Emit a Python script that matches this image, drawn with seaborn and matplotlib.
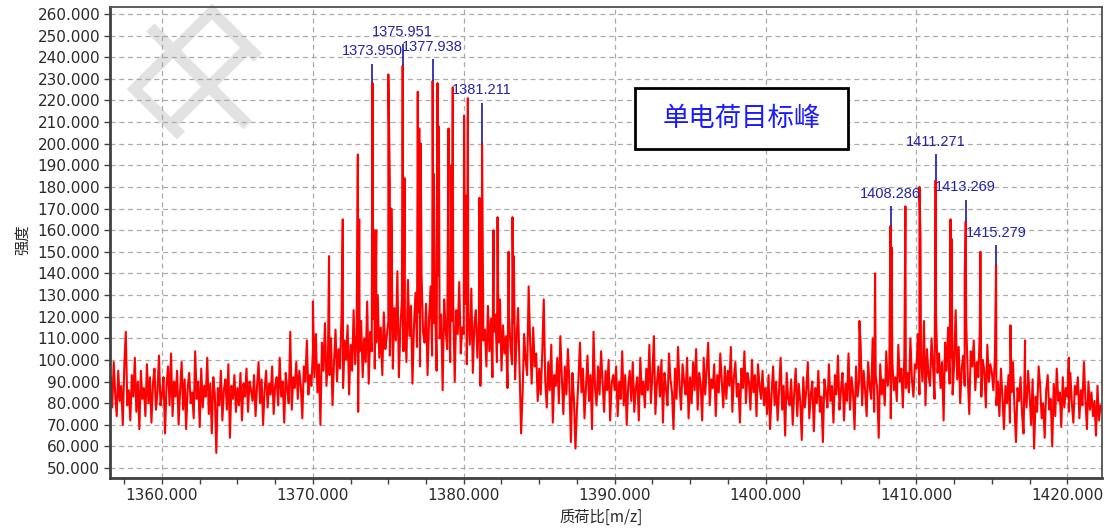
import numpy as np
import pandas as pd
import matplotlib
matplotlib.use("Agg")
import matplotlib.pyplot as plt
import seaborn as sns
from matplotlib.patches import Rectangle

# ---------------- data ----------------
mz_step = 0.1

# background spectrum, sampled every 0.1 m/z, one list per 5 m/z segment
seg_starts = [1356.6, 1360.0, 1365.0, 1370.0, 1375.0, 1380.0, 1385.0,
              1390.0, 1395.0, 1400.0, 1405.0, 1410.0, 1415.0, 1420.0]
int_1356 = [92, 78, 99, 84, 74, 95, 81, 88, 70, 97, 113, 79, 86, 72, 93, 83, 101,
            76, 90, 68, 95, 82, 87, 74, 98, 80, 92, 71, 89, 96, 77, 85, 102, 79]
int_1360 = [84, 92, 66, 88, 97, 79, 103, 74, 90, 83, 95, 70, 86, 99, 77, 91, 68, 87,
            94, 80, 85, 73, 104, 82, 90, 69, 96, 78, 88, 83, 101, 75, 89, 66, 92, 84,
            57, 87, 79, 95, 72, 86, 91, 77, 98, 64, 88, 82, 93, 76]
int_1365 = [87, 79, 94, 72, 89, 83, 96, 76, 90, 86, 81, 93, 74, 88, 99, 80, 91, 70,
            86, 95, 78, 89, 84, 97, 75, 88, 92, 79, 101, 83, 90, 71, 94, 86, 80, 113,
            77, 92, 87, 99, 82, 95, 88, 73, 97, 90, 109, 84, 93, 88]
int_1370 = [104, 92, 112, 85, 98, 70, 108, 95, 117, 88, 102, 93, 110, 79, 99, 114,
            90, 105, 96, 121, 87, 109, 100, 116, 84, 107, 95, 123, 98, 112, 76, 104,
            118, 92, 110, 99, 127, 89, 113, 104, 119, 96, 108, 130, 101, 115, 93, 122,
            105, 111]
int_1375 = [118, 102, 135, 96, 124, 109, 141, 92, 115, 128, 104, 119, 99, 137, 111,
            125, 89, 116, 131, 106, 122, 97, 140, 113, 108, 126, 93, 119, 134, 102,
            117, 124, 95, 139, 110, 121, 86, 128, 114, 105, 132, 99, 118, 127, 90, 123,
            112, 136, 103, 115]
int_1380 = [112, 126, 98, 120, 107, 133, 94, 116, 123, 101, 118, 88, 129, 109, 114,
            97, 125, 104, 119, 92, 113, 121, 99, 108, 128, 95, 116, 103, 111, 87, 120,
            106, 98, 117, 91, 110, 124, 96, 66, 85, 112, 100, 93, 134, 108, 89, 115,
            97, 103, 81]
int_1385 = [96, 84, 103, 128, 90, 78, 99, 86, 107, 71, 93, 88, 101, 80, 111, 92, 75,
            97, 84, 105, 89, 62, 94, 82, 59, 77, 91, 108, 85, 96, 73, 88, 102, 81, 93,
            68, 113, 87, 79, 97, 84, 104, 90, 76, 95, 86, 100, 72, 89, 93]
int_1390 = [86, 97, 74, 90, 82, 104, 79, 93, 70, 88, 95, 81, 99, 76, 87, 92, 72, 101,
            84, 90, 78, 96, 86, 107, 80, 93, 111, 75, 89, 97, 83, 100, 71, 94, 87, 79,
            103, 91, 85, 68, 96, 82, 106, 88, 77, 98, 90, 84, 101, 73]
int_1395 = [92, 80, 99, 86, 105, 77, 94, 89, 72, 101, 84, 96, 108, 79, 91, 87, 98, 74,
            93, 85, 103, 90, 78, 97, 82, 95, 88, 106, 76, 92, 99, 83, 89, 71, 96, 87,
            104, 80, 94, 90, 77, 100, 85, 93, 74, 98, 88, 82, 95, 79]
int_1400 = [87, 75, 93, 68, 84, 97, 79, 90, 72, 86, 101, 77, 88, 65, 94, 82, 79, 91,
            70, 85, 96, 74, 89, 81, 63, 92, 78, 86, 99, 73, 84, 90, 67, 87, 80, 95, 76,
            83, 62, 91, 85, 78, 98, 81, 88, 71, 93, 84, 102, 77]
int_1405 = [86, 94, 72, 89, 81, 103, 77, 92, 85, 68, 97, 83, 90, 108, 79, 95, 86, 74,
            99, 88, 82, 110, 76, 93, 87, 64, 98, 84, 91, 79, 104, 88, 95, 73, 100, 86,
            92, 81, 107, 90, 96, 78, 102, 87, 94, 85, 110, 91, 83, 98]
int_1410 = [96, 112, 84, 101, 90, 118, 79, 105, 93, 88, 110, 97, 82, 120, 94, 103, 87,
            99, 72, 108, 95, 115, 89, 101, 84, 98, 123, 91, 106, 80, 96, 102, 88, 117,
            93, 75, 104, 97, 109, 86, 99, 92, 113, 83, 100, 95, 78, 107, 90, 98]
int_1415 = [94, 86, 101, 79, 90, 74, 96, 83, 68, 88, 80, 93, 71, 85, 99, 77, 62, 87,
            81, 92, 75, 66, 89, 78, 95, 84, 70, 91, 59, 83, 76, 97, 88, 73, 80, 64, 86,
            93, 77, 82, 60, 89, 74, 96, 81, 85, 69, 92, 78, 87]
int_1420 = [83, 76, 94, 80, 71, 88, 84, 92, 73, 86, 79, 99, 82, 68, 90, 77, 85, 74,
            81, 65, 88, 72, 79, 76]
segments = [int_1356, int_1360, int_1365, int_1370, int_1375, int_1380, int_1385,
            int_1390, int_1395, int_1400, int_1405, int_1410, int_1415, int_1420]

# isotope peaks (apex m/z, apex intensity)
peak_mz = [1370.00, 1371.07, 1371.98, 1372.98, 1373.07, 1373.95, 1374.07, 1374.20,
           1375.00, 1375.10, 1375.20, 1375.951, 1376.08, 1376.95, 1377.05, 1377.15,
           1377.938, 1378.02, 1378.26, 1378.35, 1378.99, 1379.18, 1379.27, 1380.02,
           1380.18, 1380.27, 1381.04, 1381.211, 1381.97, 1382.24, 1382.97, 1383.23,
           1383.32, 1384.30,
           1406.22, 1407.26, 1408.286, 1408.36, 1409.27, 1410.20, 1410.27, 1411.271,
           1412.26, 1412.33, 1413.20, 1413.269, 1414.24, 1415.279, 1416.23, 1417.20,
           1420.10]
peak_int = [127, 148, 165, 195, 165, 228, 160, 160,
            232, 182, 170, 236, 184, 224, 207, 200,
            229, 186, 228, 208, 207, 190, 226, 213,
            176, 221, 175, 200, 160, 166, 150, 166,
            148, 134,
            118, 140, 162, 152, 171, 180, 157, 183,
            165, 156, 139, 164, 150, 144, 116, 109,
            101]

# annotated peaks: label, red apex, top of blue marker
label_mz = [1373.950, 1375.951, 1377.938, 1381.211, 1408.286, 1411.271, 1413.269, 1415.279]
label_text = ["1373.950", "1375.951", "1377.938", "1381.211",
              "1408.286", "1411.271", "1413.269", "1415.279"]
label_base = [228, 236, 229, 200, 162, 183, 164, 144]
label_top = [237, 246, 239, 219, 171, 195, 174, 153]

x_ticks = [1360, 1370, 1380, 1390, 1400, 1410, 1420]
y_ticks = list(range(50, 261, 10))
x_label = "质荷比[m/z]"
y_label = "强度"
box_text = "单电荷目标峰"
watermark = "中"

# ---------------- build table ----------------
frames = []
for s, vals in zip(seg_starts, segments):
    frames.append(pd.DataFrame({"mz": s + mz_step * np.arange(len(vals)), "inten": vals}))
frames.append(pd.DataFrame({"mz": peak_mz, "inten": peak_int}))
df = pd.concat(frames).sort_values("mz").reset_index(drop=True)

# ---------------- plot ----------------
sns.set_theme(style="white")
plt.rcParams["font.family"] = ["DejaVu Sans", "Noto Sans CJK SC"]
cjk = ["Noto Sans CJK SC", "DejaVu Sans"]

fig = plt.figure(figsize=(11.05, 5.29), dpi=100)
ax = fig.add_axes([0.0995, 0.0964, 0.8978, 0.8904])
ax.set_axisbelow(True)

# watermark
ax.text(0.1855, 0.858, watermark, transform=fig.transFigure, rotation=45,
        rotation_mode="anchor", ha="center", va="center", fontsize=108,
        family=cjk, fontweight="normal", color="#e2e2e2", zorder=0.2)

sns.lineplot(data=df, x="mz", y="inten", ax=ax, color="#ff0000", linewidth=1.5,
             estimator=None, sort=False, zorder=2)

# blue markers + labels
ax.vlines(label_mz, label_base, label_top, color="#2b2bb0", linewidth=1.3, zorder=3)
for mz, top, txt in zip(label_mz, label_top, label_text):
    ax.annotate(txt, (mz, top), xytext=(0, 4), textcoords="offset points",
                ha="center", va="bottom", fontsize=10.5, family="Liberation Sans",
                color="#2424a8", zorder=4)

ax.set_xlim(1356.55, 1422.3)
ax.set_ylim(45.4, 263.2)
ax.set_xticks(x_ticks)
ax.set_xticks(np.arange(1357.5, 1422.3, 2.5), minor=True)
ax.set_xticklabels([f"{v:.3f}" for v in x_ticks])
ax.set_yticks(y_ticks)
ax.set_yticklabels([f"{v:.3f}" for v in y_ticks])
ax.tick_params(axis="both", which="both", direction="out", length=4, width=1,
               color="#404040", labelsize=11, labelcolor="#2a2a2a", pad=3)
ax.tick_params(axis="x", which="both", bottom=True)
ax.tick_params(axis="y", which="both", left=True)

ax.grid(True, which="major", linestyle=(0, (4, 3)), color="#ababab", linewidth=0.9)

for side in ["left", "bottom"]:
    ax.spines[side].set_color("#404040")
    ax.spines[side].set_linewidth(2.0)
for side in ["top", "right"]:
    ax.spines[side].set_color("#505050")
    ax.spines[side].set_linewidth(1.3)
    ax.spines[side].set_visible(True)

ax.set_xlabel(x_label, family=cjk, fontsize=11, color="#2a2a2a")
ax.set_ylabel(y_label, family=cjk, fontsize=11, color="#2a2a2a")
ax.xaxis.set_label_coords(0.495, -0.066)
ax.yaxis.set_label_coords(-0.080, 0.505)

# annotation box
ax.add_patch(Rectangle((0.5292, 0.6985), 0.2147, 0.1295, transform=ax.transAxes,
                       facecolor="white", edgecolor="black", linewidth=2, zorder=5))
ax.text(0.6366, 0.7633, box_text, transform=ax.transAxes, ha="center", va="center",
        fontsize=19, family=cjk, color="#1a1aff", zorder=6)

fig.savefig("out.png", dpi=100)
